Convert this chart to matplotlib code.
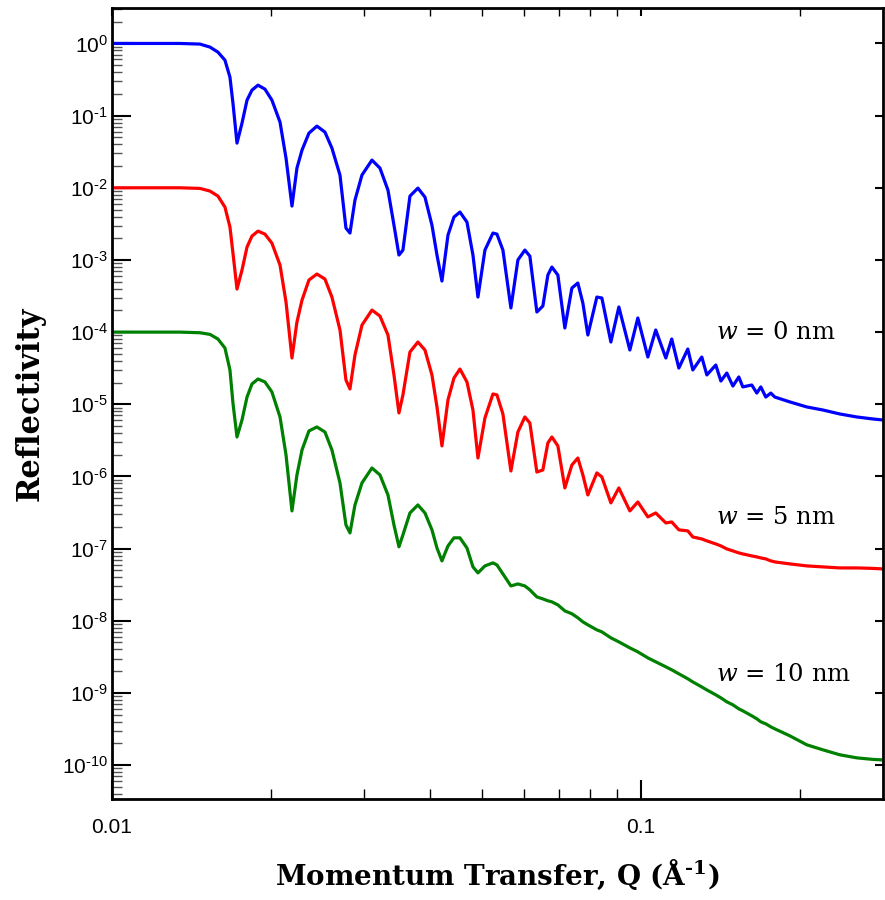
import numpy as np
import matplotlib
matplotlib.use("Agg")
import matplotlib.pyplot as plt
from matplotlib.ticker import LogLocator, FixedLocator, FixedFormatter, NullFormatter, FuncFormatter

# momentum transfer grid (1/A), shared by the three curves
q = [0.0100, 0.0118, 0.01344, 0.01467, 0.01532, 0.01586, 0.01635, 0.01671, 0.01693, 0.01723,
     0.01761, 0.01800, 0.01839, 0.01888, 0.01946, 0.02006, 0.02078, 0.02133, 0.02189, 0.02237,
     0.02287, 0.02357, 0.02440, 0.02527, 0.02605, 0.02698, 0.02769, 0.02818, 0.02880, 0.02969,
     0.03101, 0.03211, 0.03325, 0.03413, 0.03488, 0.03549, 0.03659, 0.03788, 0.03906, 0.04027,
     0.04116, 0.04206, 0.04318, 0.04432, 0.04549, 0.04690, 0.04814, 0.04920, 0.05072, 0.05252,
     0.05344, 0.05485, 0.05679, 0.05855, 0.06035, 0.06168, 0.06359, 0.06527, 0.06671, 0.06788,
     0.06968, 0.07183, 0.07406, 0.07601, 0.07769, 0.07940, 0.08257, 0.08439, 0.08777, 0.09087,
     0.09533, 0.09870, 0.1031, 0.1067, 0.1115, 0.1144, 0.1180, 0.1227, 0.1254, 0.1304,
     0.1333, 0.1386, 0.1417, 0.1454, 0.1493, 0.1532, 0.1559, 0.1621, 0.1657, 0.1686,
     0.1723, 0.1761, 0.1792, 0.1912, 0.2060, 0.2208, 0.2378, 0.2561, 0.2746, 0.2868]

# w = 0 nm
r_w0 = [1.0, 1.0, 1.0, 0.98, 0.89, 0.758, 0.587, 0.341, 0.149, 0.0416,
        0.0787, 0.164, 0.2255, 0.2645, 0.2328, 0.164, 0.0813, 0.0258, 0.00558, 0.01875,
        0.0333, 0.0572, 0.0716, 0.0591, 0.0355, 0.0150, 0.00277, 0.00236, 0.00675, 0.0150,
        0.0242, 0.01875, 0.00929, 0.00304, 0.00117, 0.00137, 0.00767, 0.00990, 0.00743, 0.00304,
        0.00117, 5.10e-4, 0.00221, 0.00393, 0.00461, 0.00335, 0.00117, 3.06e-4, 0.00137, 0.00236,
        0.00228, 0.00137, 2.16e-4, 0.00100, 0.00137, 0.00113, 1.90e-4, 2.30e-4, 6.18e-4, 7.97e-4,
        6.18e-4, 1.14e-4, 4.08e-4, 4.79e-4, 2.53e-4, 9.12e-5, 3.06e-4, 2.97e-4, 7.29e-5, 2.23e-4,
        5.65e-5, 1.57e-4, 4.52e-5, 1.07e-4, 4.38e-5, 8.02e-5, 3.18e-5, 5.83e-5, 2.99e-5, 4.52e-5,
        2.55e-5, 3.50e-5, 2.10e-5, 2.71e-5, 1.79e-5, 2.39e-5, 1.74e-5, 1.85e-5, 1.43e-5, 1.74e-5,
        1.26e-5, 1.43e-5, 1.26e-5, 1.08e-5, 9.18e-6, 8.34e-6, 7.34e-6, 6.67e-6, 6.26e-6, 6.06e-6]

# w = 5 nm
r_w5 = [1.0e-2, 1.0e-2, 1.0e-2, 9.8e-3, 9.0e-3, 7.67e-3, 5.40e-3, 2.86e-3, 1.246e-3, 3.95e-4,
        7.25e-4, 1.51e-3, 2.14e-3, 2.51e-3, 2.28e-3, 1.71e-3, 8.50e-4, 2.61e-4, 4.38e-5, 1.38e-4,
        2.78e-4, 5.27e-4, 6.38e-4, 5.44e-4, 3.06e-4, 1.07e-4, 2.17e-5, 1.63e-5, 4.82e-5, 1.25e-4,
        2.02e-4, 1.67e-4, 9.12e-5, 2.55e-5, 7.58e-6, 1.35e-5, 5.30e-5, 7.29e-5, 5.65e-5, 2.55e-5,
        9.18e-6, 2.65e-6, 1.15e-5, 2.31e-5, 3.08e-5, 2.04e-5, 8.34e-6, 1.80e-6, 6.46e-6, 1.39e-5,
        1.35e-5, 7.34e-6, 1.19e-6, 4.13e-6, 6.67e-6, 5.51e-6, 1.15e-6, 1.23e-6, 2.91e-6, 3.52e-6,
        2.65e-6, 6.93e-7, 1.44e-6, 1.80e-6, 1.05e-6, 5.54e-7, 1.12e-6, 9.84e-7, 4.30e-7, 6.93e-7,
        3.33e-7, 4.43e-7, 2.75e-7, 3.12e-7, 2.27e-7, 2.34e-7, 1.82e-7, 1.76e-7, 1.45e-7, 1.36e-7,
        1.28e-7, 1.16e-7, 1.09e-7, 9.90e-8, 9.29e-8, 8.72e-8, 8.44e-8, 7.92e-8, 7.67e-8, 7.43e-8,
        7.20e-8, 6.76e-8, 6.54e-8, 6.14e-8, 5.76e-8, 5.58e-8, 5.40e-8, 5.40e-8, 5.32e-8, 5.23e-8]

# w = 10 nm
r_w10 = [1.0e-4, 1.0e-4, 1.0e-4, 9.8e-5, 9.3e-5, 8.02e-5, 6.02e-5, 2.99e-5, 1.04e-5, 3.52e-6,
         6.06e-6, 1.26e-5, 1.91e-5, 2.24e-5, 2.04e-5, 1.48e-5, 6.67e-6, 1.99e-6, 3.33e-7, 1.05e-6,
         2.33e-6, 4.27e-6, 4.85e-6, 4.13e-6, 2.33e-6, 8.13e-7, 2.13e-7, 1.65e-7, 4.03e-7, 8.13e-7,
         1.31e-6, 1.05e-6, 5.54e-7, 2.13e-7, 1.06e-7, 1.55e-7, 3.12e-7, 4.03e-7, 3.12e-7, 1.82e-7,
         1.02e-7, 6.76e-8, 1.09e-7, 1.41e-7, 1.41e-7, 1.02e-7, 5.58e-8, 4.61e-8, 5.76e-8, 6.34e-8,
         5.94e-8, 4.46e-8, 3.04e-8, 3.24e-8, 3.04e-8, 2.68e-8, 2.14e-8, 2.01e-8, 1.89e-8, 1.83e-8,
         1.66e-8, 1.37e-8, 1.25e-8, 1.10e-8, 9.66e-9, 8.77e-9, 7.48e-9, 7.02e-9, 5.80e-9, 5.10e-9,
         4.21e-9, 3.71e-9, 3.06e-9, 2.70e-9, 2.30e-9, 2.09e-9, 1.84e-9, 1.57e-9, 1.42e-9, 1.21e-9,
         1.10e-9, 9.41e-10, 8.55e-10, 7.53e-10, 6.84e-10, 6.02e-10, 5.65e-10, 4.82e-10, 4.38e-10, 3.98e-10,
         3.73e-10, 3.39e-10, 3.18e-10, 2.55e-10, 1.91e-10, 1.63e-10, 1.39e-10, 1.26e-10, 1.20e-10, 1.18e-10]

labels = ["0", "5", "10"]
colors = ["#0000ff", "#ff0000", "#008000"]
label_y = [1.0e-4, 2.66e-7, 1.78e-9]

plt.rcParams['font.family'] = ['Liberation Sans', 'DejaVu Sans']
plt.rcParams['axes.unicode_minus'] = False
plt.rcParams['mathtext.fontset'] = 'custom'
plt.rcParams['mathtext.rm'] = 'Liberation Sans'
plt.rcParams['mathtext.it'] = 'Liberation Sans:italic'
plt.rcParams['mathtext.bf'] = 'Liberation Sans:bold'

serif = ['DejaVu Serif']
HY = '\u2010'  # short hyphen instead of the math minus sign

fig = plt.figure(figsize=(8.85, 9.0), dpi=100)
ax = fig.add_axes([0.1266, 0.1122, 0.8711, 0.8788])

for r, c in zip([r_w0, r_w5, r_w10], colors):
    ax.plot(q, r, color=c, lw=2.3, solid_joinstyle='round')

for lab, ly in zip(labels, label_y):
    ax.text(0.139, ly, r'$w$ = ' + lab + ' nm', fontsize=17.5, va='center', ha='left',
            family=serif, math_fontfamily='dejavuserif')

ax.set_xscale('log')
ax.set_yscale('log')
ax.set_xlim(0.01, 0.287)
ax.set_ylim(10 ** -10.47, 10 ** 0.49)


def ylab(v, pos):
    e = int(round(np.log10(v)))
    s = str(e).replace('-', HY)
    return '10$^{\\mathregular{' + s + '}}$'


ax.xaxis.set_major_locator(FixedLocator([0.01, 0.1]))
ax.xaxis.set_major_formatter(FixedFormatter(["0.01", "0.1"]))
ax.xaxis.set_minor_locator(LogLocator(base=10, subs=np.arange(2, 10), numticks=20))
ax.xaxis.set_minor_formatter(NullFormatter())
ax.yaxis.set_major_locator(LogLocator(base=10, numticks=20))
ax.yaxis.set_major_formatter(FuncFormatter(ylab))
ax.yaxis.set_minor_locator(LogLocator(base=10, subs=np.arange(2, 10), numticks=20))
ax.yaxis.set_minor_formatter(NullFormatter())

ax.tick_params(which='major', direction='in', length=14, width=1.5, labelsize=15)
ax.tick_params(axis='y', which='major', pad=3)
ax.tick_params(axis='x', which='major', pad=14)
ax.tick_params(which='minor', direction='in', length=7, width=1.0)
ax.tick_params(axis='y', which='minor', color='#555555')
ax.tick_params(top=True, right=True, which='both')
# short ticks on the opposite sides
for t in ax.xaxis.get_major_ticks():
    t.tick2line.set_markersize(6)
for t in ax.xaxis.get_minor_ticks():
    t.tick2line.set_markersize(6)
for t in ax.yaxis.get_major_ticks():
    t.tick2line.set_markersize(6)
for t in ax.yaxis.get_minor_ticks():
    t.tick2line.set_markersize(0)

for s in ax.spines.values():
    s.set_linewidth(2.0)

ax.set_xlabel('Momentum Transfer, Q (Å$^{\\mathbf{' + HY + '1}}$)', fontsize=20, fontweight='bold',
              family=serif, math_fontfamily='dejavuserif', labelpad=15)
ax.set_ylabel('Reflectivity', fontsize=22, fontweight='bold', family=serif)
ax.yaxis.set_label_coords(-0.086, 0.5)

fig.savefig('out.png', dpi=100)
